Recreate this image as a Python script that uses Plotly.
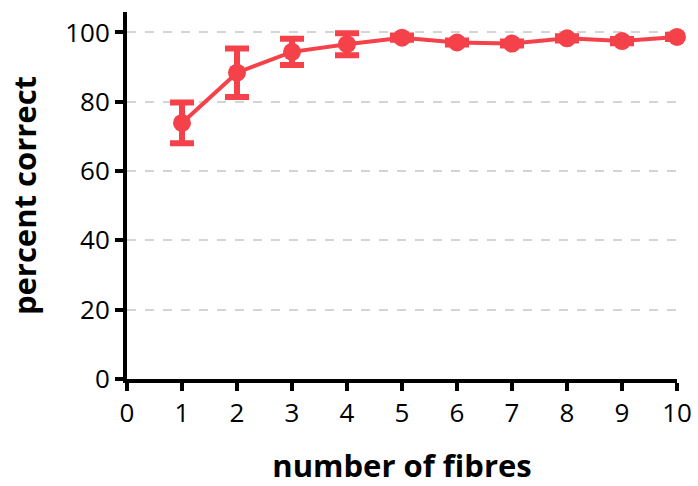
import plotly.graph_objects as go

# Mean percent correct by number of fibres, with error bar half-widths
fibres = [1, 2, 3, 4, 5, 6, 7, 8, 9, 10]
percent_correct = [73.9, 88.4, 94.4, 96.6, 98.5, 97.1, 96.8, 98.3, 97.5, 98.7]
error = [5.9, 7.0, 3.8, 3.2, 0.6, 0.6, 0.6, 0.6, 0.6, 0.6]

x_ticks = list(range(0, 11))
y_ticks = [0, 20, 40, 60, 80, 100]

red = "#F5424A"

fig = go.Figure()
fig.add_trace(go.Scatter(
    x=fibres,
    y=percent_correct,
    mode="lines+markers",
    line=dict(color=red, width=4),
    marker=dict(color=red, size=18),
    error_y=dict(type="data", array=error, visible=True,
                 color=red, thickness=6, width=12),
    cliponaxis=False,
    showlegend=False,
))

fig.update_layout(
    width=698, height=486,
    margin=dict(l=127, r=21, t=12, b=107),
    paper_bgcolor="white",
    plot_bgcolor="white",
    font=dict(family="Open Sans, Liberation Sans, sans-serif", color="black"),
)

fig.update_xaxes(
    range=[0, 10],
    tickvals=x_ticks,
    ticktext=[str(t) for t in x_ticks],
    showline=True, linecolor="black", linewidth=4,
    ticks="outside", ticklen=8, tickwidth=3.5, tickcolor="black",
    tickfont=dict(size=26),
    showgrid=False, zeroline=False,
    automargin=False,
    title=dict(text="<b>number of fibres</b>", font=dict(size=31), standoff=32),
)

fig.update_yaxes(
    range=[0, 105.9],
    tickvals=y_ticks,
    ticktext=[str(t) for t in y_ticks],
    showline=True, linecolor="black", linewidth=4,
    ticks="outside", ticklen=8, tickwidth=3.5, tickcolor="black",
    tickfont=dict(size=26),
    showgrid=True, gridcolor="#d4d4d4", gridwidth=2, griddash="dash",
    zeroline=False,
    automargin=False,
    title=dict(text="<b>percent correct</b>", font=dict(size=31), standoff=20),
)

fig.write_html("out.html")
